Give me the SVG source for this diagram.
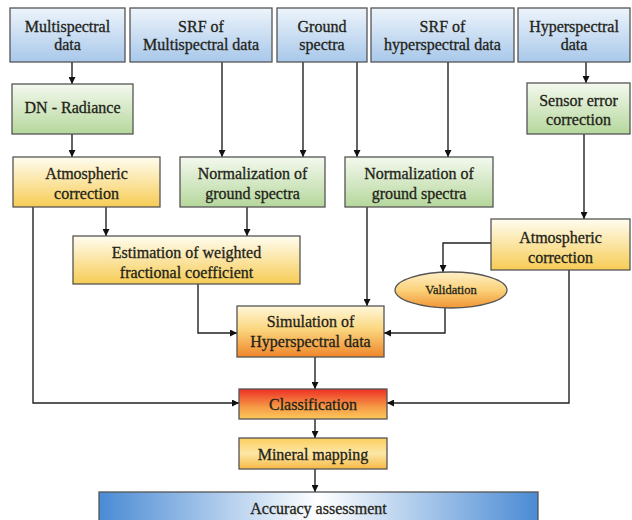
<svg xmlns="http://www.w3.org/2000/svg" width="632" height="520" viewBox="0 0 632 520">
<defs>
<linearGradient id="gBlue" x1="0" y1="0" x2="0" y2="1"><stop offset="0" stop-color="#edf4fb"/><stop offset="1" stop-color="#a8c8ea"/></linearGradient>
<linearGradient id="gGreen" x1="0" y1="0" x2="0" y2="1"><stop offset="0" stop-color="#f4f9ef"/><stop offset="1" stop-color="#b5d79c"/></linearGradient>
<linearGradient id="gYellow" x1="0" y1="0" x2="0" y2="1"><stop offset="0" stop-color="#fffdf0"/><stop offset="1" stop-color="#f7cc55"/></linearGradient>
<linearGradient id="gSim" x1="0" y1="0" x2="0" y2="1"><stop offset="0" stop-color="#fff7da"/><stop offset="0.45" stop-color="#fbd780"/><stop offset="1" stop-color="#ef862a"/></linearGradient>
<linearGradient id="gCls" x1="0" y1="0" x2="0" y2="1"><stop offset="0" stop-color="#ee2f25"/><stop offset="0.6" stop-color="#f69a45"/><stop offset="1" stop-color="#fbc85c"/></linearGradient>
<linearGradient id="gMin" x1="0" y1="0" x2="0" y2="1"><stop offset="0" stop-color="#fbcf5e"/><stop offset="0.5" stop-color="#fde7a6"/><stop offset="1" stop-color="#f6b844"/></linearGradient>
<linearGradient id="gVal" x1="0" y1="0" x2="0" y2="1"><stop offset="0" stop-color="#fff0c8"/><stop offset="0.5" stop-color="#fbd27a"/><stop offset="1" stop-color="#f09534"/></linearGradient>
<linearGradient id="gAcc" x1="0" y1="0" x2="1" y2="0"><stop offset="0" stop-color="#4a8bd4"/><stop offset="0.5" stop-color="#ffffff"/><stop offset="1" stop-color="#4a8bd4"/></linearGradient>
<marker id="arr" viewBox="0 0 10 10" refX="10" refY="5" markerWidth="7" markerHeight="7" orient="auto" markerUnits="userSpaceOnUse"><path d="M0,0 L10,5 L0,10 z" fill="#111"/></marker>
</defs>
<style>
.b { stroke: #555; stroke-width: 1.3; }
text { font-family: 'Liberation Serif', serif; font-size: 16px; fill: #232318; stroke: #232318; stroke-width: 0.3; text-anchor: middle; dominant-baseline: central; }
.c { fill: none; stroke: #222; stroke-width: 1.4; marker-end: url(#arr); }
</style>
<g id="connectors">
<path class="c" d="M72,62 V84"/>
<path class="c" d="M72,134 V157"/>
<path class="c" d="M222,62 V157"/>
<path class="c" d="M303,62 V157"/>
<path class="c" d="M357,62 V157"/>
<path class="c" d="M448,62 V157"/>
<path class="c" d="M586,62 V83"/>
<path class="c" d="M584,134 V219"/>
<path class="c" d="M33,207 V403 H239"/>
<path class="c" d="M106,207 V236"/>
<path class="c" d="M247,207 V236"/>
<path class="c" d="M198,284 V333 H237"/>
<path class="c" d="M367,207 V306"/>
<path class="c" d="M491,243 H443 V272"/>
<path class="c" d="M445,308 V333 H384"/>
<path class="c" d="M569,270 V403 H387"/>
<path class="c" d="M315,357 V389"/>
<path class="c" d="M315,419 V438"/>
<path class="c" d="M315,469 V492"/>
</g>
<g id="multispectral"><rect class="b" x="10" y="8" width="115" height="54" fill="url(#gBlue)"/><text x="67.5" y="26">Multispectral</text><text x="67.5" y="44">data</text></g>
<g id="srf-multi"><rect class="b" x="130" y="8" width="142" height="54" fill="url(#gBlue)"/><text x="201" y="26">SRF of</text><text x="201" y="44">Multispectral data</text></g>
<g id="ground"><rect class="b" x="277" y="8" width="90" height="54" fill="url(#gBlue)"/><text x="322" y="26">Ground</text><text x="322" y="44">spectra</text></g>
<g id="srf-hyper"><rect class="b" x="371" y="8" width="143" height="54" fill="url(#gBlue)"/><text x="442.5" y="26">SRF of</text><text x="442.5" y="44">hyperspectral data</text></g>
<g id="hyperspectral"><rect class="b" x="518" y="8" width="112" height="54" fill="url(#gBlue)"/><text x="574" y="26">Hyperspectral</text><text x="574" y="44">data</text></g>
<g id="dn"><rect class="b" x="12" y="84" width="121" height="50" fill="url(#gGreen)"/><text x="72.5" y="107">DN - Radiance</text></g>
<g id="sensor"><rect class="b" x="527" y="83" width="103" height="51" fill="url(#gGreen)"/><text x="578.5" y="100">Sensor error</text><text x="578.5" y="119">correction</text></g>
<g id="atm1"><rect class="b" x="13" y="157" width="147" height="50" fill="url(#gYellow)"/><text x="86.5" y="173">Atmospheric</text><text x="86.5" y="193">correction</text></g>
<g id="norm1"><rect class="b" x="180" y="157" width="145" height="50" fill="url(#gGreen)"/><text x="252.5" y="173">Normalization of</text><text x="252.5" y="193">ground spectra</text></g>
<g id="norm2"><rect class="b" x="345" y="157" width="148" height="50" fill="url(#gGreen)"/><text x="419" y="173">Normalization of</text><text x="419" y="193">ground spectra</text></g>
<g id="estimation"><rect class="b" x="73" y="236" width="227" height="48" fill="url(#gYellow)"/><text x="186.5" y="252">Estimation of weighted</text><text x="186.5" y="272">fractional coefficient</text></g>
<g id="atm2"><rect class="b" x="491" y="219" width="139" height="51" fill="url(#gYellow)"/><text x="560.5" y="237">Atmospheric</text><text x="560.5" y="257">correction</text></g>
<g id="validation"><ellipse class="b" cx="451" cy="290" rx="56" ry="18" fill="url(#gVal)"/><text x="451" y="290" style="font-size:12.5px">Validation</text></g>
<g id="simulation"><rect class="b" x="237" y="306" width="147" height="51" fill="url(#gSim)"/><text x="310.5" y="321">Simulation of</text><text x="310.5" y="341">Hyperspectral data</text></g>
<g id="classification"><rect class="b" x="239" y="389" width="148" height="30" fill="url(#gCls)"/><text x="313" y="404">Classification</text></g>
<g id="mineral"><rect class="b" x="239" y="438" width="148" height="31" fill="url(#gMin)"/><text x="313" y="454">Mineral mapping</text></g>
<g id="accuracy"><rect class="b" x="99" y="492" width="439" height="40" fill="url(#gAcc)"/><text x="318.5" y="508">Accuracy assessment</text></g>
</svg>
